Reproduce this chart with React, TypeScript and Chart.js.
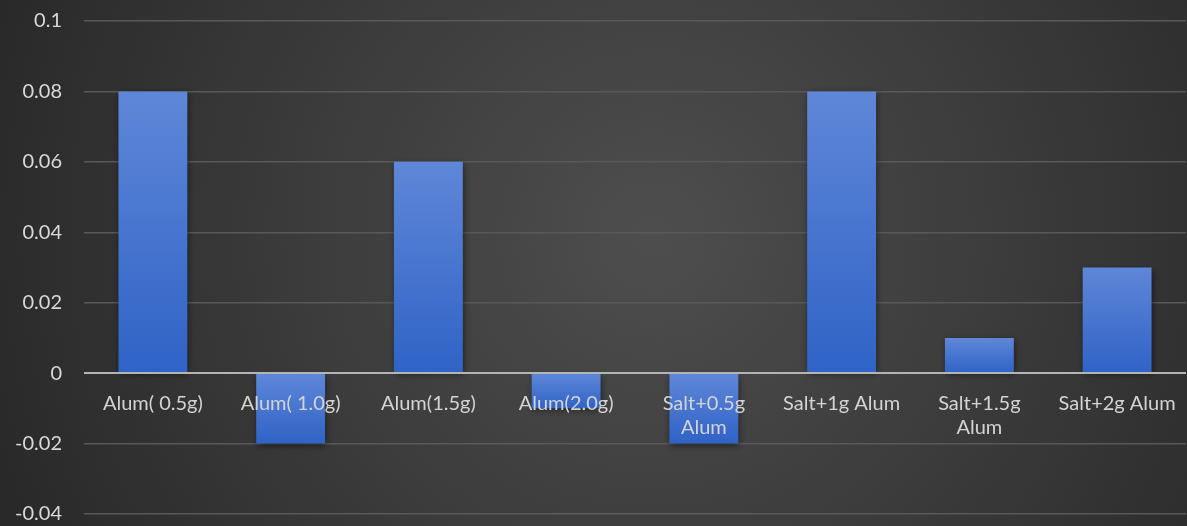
import React, { useEffect, useRef } from "react";
import { Chart, registerables } from "chart.js";

Chart.register(...registerables);

const categories: (string | string[])[] = [
  "Alum( 0.5g)",
  "Alum( 1.0g)",
  "Alum(1.5g)",
  "Alum(2.0g)",
  ["Salt+0.5g", "Alum"],
  "Salt+1g Alum",
  ["Salt+1.5g", "Alum"],
  "Salt+2g Alum",
];
const values: number[] = [0.08, -0.02, 0.06, -0.01, -0.02, 0.08, 0.01, 0.03];
const yMin = -0.04;
const yMax = 0.1;
const yStep = 0.02;

const FONT = "Lato, 'Open Sans', sans-serif";

export default function App() {
  const ref = useRef<HTMLCanvasElement | null>(null);

  useEffect(() => {
    if (!ref.current) return;
    const bgPlugin = {
      id: "bg",
      beforeDraw(chart: any) {
        const { ctx, width, height } = chart;
        ctx.save();
        const g = ctx.createRadialGradient(width * 0.55, height * 0.45, 0, width * 0.55, height * 0.45, width * 0.62);
        g.addColorStop(0, "#4e4e4e");
        g.addColorStop(1, "#272727");
        ctx.fillStyle = g;
        ctx.fillRect(0, 0, width, height);
        ctx.restore();
      },
      beforeDatasetsDraw(chart: any) {
        const ctx = chart.ctx;
        ctx.save();
        ctx.shadowColor = "rgba(0,0,0,0.55)";
        ctx.shadowBlur = 7;
        ctx.shadowOffsetX = 1;
        ctx.shadowOffsetY = 2;
      },
      afterDatasetsDraw(chart: any) {
        const ctx = chart.ctx;
        ctx.restore();
        const ys = chart.scales.y;
        const y0 = Math.round(ys.getPixelForValue(0));
        ctx.save();
        ctx.strokeStyle = "#b4b4b4";
        ctx.lineWidth = 2;
        ctx.beginPath();
        ctx.moveTo(chart.chartArea.left, y0);
        ctx.lineTo(chart.chartArea.right, y0);
        ctx.stroke();
        ctx.restore();
      },
    };

    const chart = new Chart(ref.current, {
      type: "bar",
      data: {
        labels: categories,
        datasets: [
          {
            data: values,
            backgroundColor: (c: any) => {
              const ch = c.chart;
              const ys = ch.scales && ch.scales.y;
              if (!ch.chartArea || !ys || c.raw === undefined) return "#4472c4";
              const v = c.raw as number;
              const top = ys.getPixelForValue(Math.max(v, 0));
              const bot = ys.getPixelForValue(Math.min(v, 0));
              const g = ch.ctx.createLinearGradient(0, top, 0, Math.max(bot, top + 1));
              g.addColorStop(0, "#5f87d8");
              g.addColorStop(1, "#2f63c6");
              return g;
            },
            borderWidth: 0,
            barPercentage: 0.5,
            categoryPercentage: 1,
          },
        ],
      },
      options: {
        animation: false,
        responsive: false,
        maintainAspectRatio: false,
        layout: { padding: { top: 21, bottom: 12, left: 0, right: 1 } },
        plugins: { legend: { display: false }, tooltip: { enabled: false } },
        scales: {
          x: {
            position: { y: 0 } as any,
            afterFit: (s: any) => {
              s.paddingLeft = 0;
              s.paddingRight = 0;
            },
            grid: { display: false, drawTicks: false },
            border: { display: false },
            ticks: {
              z: 2,
              color: "#d4d4d4",
              font: { family: FONT, size: 20 },
              padding: 18,
              maxRotation: 0,
              autoSkip: false,
            },
          },
          y: {
            min: yMin,
            max: yMax,
            afterFit: (s: any) => {
              s.width = 84;
              s.paddingTop = 0;
              s.paddingBottom = 0;
            },
            grid: {
              drawTicks: false,
              color: (c: any) => (c.tick && Math.abs(c.tick.value) < 1e-9 ? "rgba(0,0,0,0)" : "#595959"),
              lineWidth: 1.5,
            },
            border: { display: false },
            ticks: {
              stepSize: yStep,
              color: "#d9d9d9",
              font: { family: FONT, size: 20 },
              padding: 22,
              callback: (v: any) => String(Number(Number(v).toFixed(2))),
            },
          },
        },
      },
      plugins: [bgPlugin],
    });
    return () => chart.destroy();
  }, []);

  return (
    <div style={{ position: "fixed", left: 0, top: 0, width: 1187, height: 526 }}>
      <canvas ref={ref} width={1187} height={526} style={{ width: 1187, height: 526, display: "block" }} />
    </div>
  );
}
